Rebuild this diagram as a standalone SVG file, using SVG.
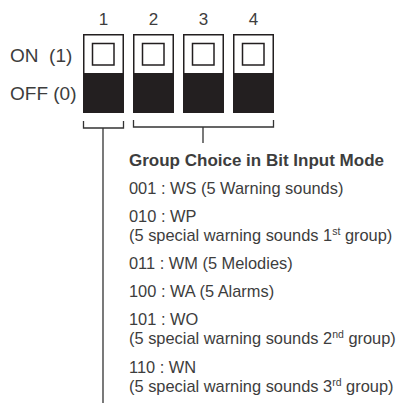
<svg xmlns="http://www.w3.org/2000/svg" width="401" height="403" viewBox="0 0 401 403">
<style>
text{font-family:"Liberation Sans",Arial,sans-serif;fill:#3d3d3d}
.num{font-size:17px;text-anchor:middle}
.lbl{font-size:19px}
.t{font-size:16.4px}
.b{font-size:17px;font-weight:bold}
.sup{font-size:10.5px}
.sw{fill:#fff;stroke:#231f20;stroke-width:1.5}
.off{fill:#231f20}
.conn{fill:none;stroke:#333;stroke-width:1.3}
</style>
<g id="labels">
<text class="lbl" x="10" y="62" xml:space="preserve">ON  (1)</text>
<text class="lbl" x="10" y="100" xml:space="preserve">OFF (0)</text>
</g>
<g id="switch1">
<text class="num" x="103.5" y="25">1</text>
<rect class="sw" x="83.75" y="34.75" width="39.5" height="77.5"/>
<rect class="off" x="83" y="73" width="41" height="40"/>
<rect class="sw" x="92.5" y="43.5" width="21.5" height="21.5"/>
</g>
<g id="switch2">
<text class="num" x="153.5" y="25">2</text>
<rect class="sw" x="133.75" y="34.75" width="39.5" height="77.5"/>
<rect class="off" x="133" y="73" width="41" height="40"/>
<rect class="sw" x="142.5" y="43.5" width="21.5" height="21.5"/>
</g>
<g id="switch3">
<text class="num" x="203.5" y="25">3</text>
<rect class="sw" x="183.75" y="34.75" width="39.5" height="77.5"/>
<rect class="off" x="183" y="73" width="41" height="40"/>
<rect class="sw" x="192.5" y="43.5" width="21.5" height="21.5"/>
</g>
<g id="switch4">
<text class="num" x="253.5" y="25">4</text>
<rect class="sw" x="233.75" y="34.75" width="39.5" height="77.5"/>
<rect class="off" x="233" y="73" width="41" height="40"/>
<rect class="sw" x="242.5" y="43.5" width="21.5" height="21.5"/>
</g>
<g id="connectors">
<path class="conn" d="M83.5,121 V128 H123.5 V121 M103,128 V403"/>
<path class="conn" d="M133.5,120 V127 H273.5 V120 M203,127 V143"/>
</g>
<g id="group-choice">
<text class="b" x="129" y="166">Group Choice in Bit Input Mode</text>
<text class="t" x="129" y="194">001 : WS (5 Warning sounds)</text>
<text class="t" x="129" y="222">010 : WP</text>
<text class="t" x="129" y="241">(5 special warning sounds 1<tspan class="sup" dy="-6">st</tspan><tspan dy="6"> group)</tspan></text>
<text class="t" x="129" y="269">011 : WM (5 Melodies)</text>
<text class="t" x="129" y="297">100 : WA (5 Alarms)</text>
<text class="t" x="129" y="325">101 : WO</text>
<text class="t" x="129" y="344">(5 special warning sounds 2<tspan class="sup" dy="-6">nd</tspan><tspan dy="6"> group)</tspan></text>
<text class="t" x="129" y="373">110 : WN</text>
<text class="t" x="129" y="392">(5 special warning sounds 3<tspan class="sup" dy="-6">rd</tspan><tspan dy="6"> group)</tspan></text>
</g>
</svg>
